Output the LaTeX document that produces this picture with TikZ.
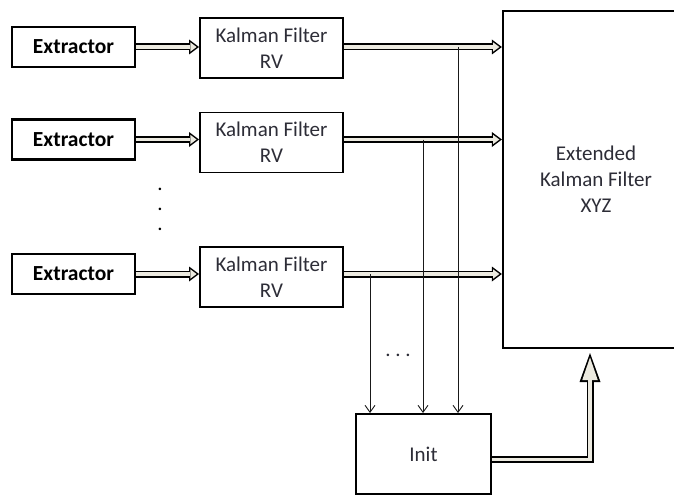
\documentclass[tikz,border=0pt]{standalone}
\usepackage{fontspec}
\setmainfont{Carlito}
\usetikzlibrary{arrows.meta,calc}
\definecolor{txt}{RGB}{45,45,55}
\definecolor{shaft}{RGB}{236,234,224}
\begin{document}
\begin{tikzpicture}[x=1pt,y=-1pt,
  every node/.style={font=\fontsize{21}{26}\selectfont, text=txt, align=center, inner sep=0pt},
  extbox/.style={draw, line width=2.3pt, minimum width=123pt, minimum height=40pt, text=black,
                 font=\fontsize{21.5}{26}\selectfont\bfseries},
  kfbox/.style={draw, line width=1.9pt, minimum width=143pt, minimum height=60pt},
  flow/.style={line width=7pt, -{Triangle[length=10pt,width=15pt,line width=0pt]},
               postaction={draw=shaft, line width=3.5pt, shorten >=2.5pt,
                           -{Triangle[length=6.3pt,width=9.4pt,line width=0pt]}}},
  bigflow/.style={line width=7pt, line join=miter, -{Triangle[length=29pt,width=21pt,line width=0pt]},
               postaction={draw=shaft, line width=3.5pt, line join=miter, shorten >=4.5pt,
                           -{Triangle[length=22.5pt,width=15.5pt,line width=0pt]}}},
  thinarr/.style={line width=0.9pt, draw=black!90, -{Straight Barb[length=7pt,width=10pt]}},
  dotmark/.style={anchor=base, text=black}
]
\fill[white] (0,0) rectangle (674,495);
\useasboundingbox (0,0) rectangle (674,495);

% boxes
\node[extbox] (e1) at (73.5,47) {Extractor};
\node[extbox] (e2) at (73.5,139.5) {Extractor};
\node[extbox] (e3) at (73.5,274) {Extractor};

\node[kfbox] (k1) at (271.5,48) {Kalman Filter\\RV};
\node[kfbox] (k2) at (271.5,142.5) {Kalman Filter\\RV};
\node[kfbox] (k3) at (271.5,277) {Kalman Filter\\RV};

\node[draw, line width=2.3pt, minimum width=186pt, minimum height=337pt] (big) at (596,179.5)
  {Extended\\Kalman Filter\\XYZ};

\node[draw, line width=1.9pt, minimum width=135pt, minimum height=80pt] (init) at (423.5,454) {Init};

% vertical dots
\node[dotmark] (d1) at (160,190.5) {.};
\node[dotmark] (d2) at (160,210.5) {.};
\node[dotmark] (d3) at (160,230.5) {.};
\node[dotmark, text=txt] (hd) at (398,356) {.\ .\ .};

% double arrows
\foreach \i in {1,2,3}{
  \draw[flow] (e\i.east) -- (e\i.east -| k\i.west);
  \draw[flow] (e\i.east -| k\i.east) -- (e\i.east -| big.west);
}

% thin arrows to Init
\coordinate (t1) at (458,47);
\coordinate (t2) at (423,139.5);
\coordinate (t3) at (370,274);
\draw[thinarr] (t1) -- (t1 |- init.north);
\draw[thinarr] (t2) -- (t2 |- init.north);
\draw[thinarr] (t3) -- (t3 |- init.north);

% Init to EKF
\coordinate (bigin) at (590,353);
\draw[bigflow] ($(init.east)+(0,5.5)$) -| (bigin);
\end{tikzpicture}
\end{document}
